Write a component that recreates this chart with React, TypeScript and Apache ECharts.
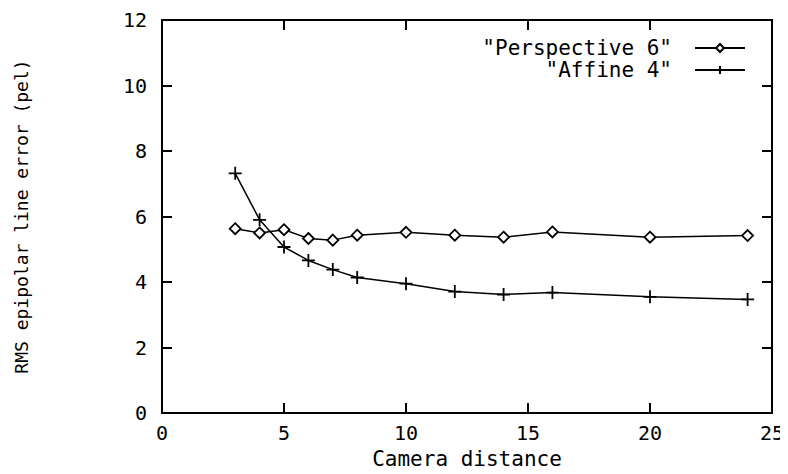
import React, { useEffect, useRef } from "react";
import * as echarts from "echarts";

const distances = [3, 4, 5, 6, 7, 8, 10, 12, 14, 16, 20, 24];
const perspective6 = [5.63, 5.5, 5.6, 5.33, 5.28, 5.43, 5.52, 5.43, 5.37, 5.53, 5.37, 5.42];
const affine4 = [7.32, 5.9, 5.07, 4.66, 4.38, 4.14, 3.95, 3.71, 3.62, 3.68, 3.55, 3.47];
const xTicks = [0, 25, 5];
const yTicks = [0, 12, 2];

const FONT = "DejaVu Sans Mono";
const plusPath = "path://M0,6L12,6M6,0L6,12";

export default function App() {
  const ref = useRef<HTMLDivElement>(null);
  useEffect(() => {
    if (!ref.current) return;
    const chart = echarts.init(ref.current, null, { renderer: "svg" });
    const axisCommon = {
      axisLine: { show: true, onZero: false, lineStyle: { color: "#000", width: 2 } },
      axisTick: { show: true, inside: true, length: 10, lineStyle: { color: "#000", width: 2 } },
      splitLine: { show: false },
      minorTick: { show: false },
    };
    chart.setOption({
      animation: false,
      backgroundColor: "#fff",
      grid: { left: 162, right: 16, top: 20, bottom: 56, containLabel: false },
      xAxis: [
        {
          type: "value",
          min: xTicks[0],
          max: xTicks[1],
          interval: xTicks[2],
          position: "bottom",
          ...axisCommon,
          axisLabel: { color: "#000", fontFamily: FONT, fontSize: 20, margin: 10 },
          name: "Camera distance",
          nameLocation: "middle",
          nameGap: 34,
          nameTextStyle: { color: "#000", fontFamily: FONT, fontSize: 21 },
        },
        {
          type: "value",
          min: xTicks[0],
          max: xTicks[1],
          interval: xTicks[2],
          position: "top",
          ...axisCommon,
          axisLabel: { show: false },
        },
      ],
      yAxis: [
        {
          type: "value",
          min: yTicks[0],
          max: yTicks[1],
          interval: yTicks[2],
          position: "left",
          ...axisCommon,
          axisLabel: { color: "#000", fontFamily: FONT, fontSize: 20, margin: 15 },
          name: "RMS epipolar line error (pel)",
          nameLocation: "middle",
          nameGap: 132,
          nameTextStyle: { color: "#000", fontFamily: FONT, fontSize: 18 },
        },
        {
          type: "value",
          min: yTicks[0],
          max: yTicks[1],
          interval: yTicks[2],
          position: "right",
          ...axisCommon,
          axisLabel: { show: false },
        },
      ],
      legend: {
        orient: "vertical",
        align: "right",
        right: 42,
        top: 37,
        padding: 0,
        itemWidth: 50,
        itemHeight: 10,
        itemGap: 0,
        textStyle: {
          color: "#000",
          fontFamily: FONT,
          fontSize: 21,
          lineHeight: 22,
          height: 22,
          padding: [0, 18, 0, 0],
        },
        data: [{ name: '"Perspective 6"' }, { name: '"Affine 4"' }],
      },
      series: [
        {
          name: '"Perspective 6"',
          type: "line",
          data: distances.map((d, i) => [d, perspective6[i]]),
          symbol: "diamond",
          symbolSize: [11, 11],
          showAllSymbol: true,
          lineStyle: { color: "#000", width: 1.5 },
          itemStyle: { color: "#fff", borderColor: "#000", borderWidth: 1.8 },
        },
        {
          name: '"Affine 4"',
          type: "line",
          data: distances.map((d, i) => [d, affine4[i]]),
          symbol: plusPath,
          symbolSize: 13,
          showAllSymbol: true,
          lineStyle: { color: "#000", width: 1.5 },
          itemStyle: { color: "none", borderColor: "#000", borderWidth: 1.8 },
        },
      ],
    });
    return () => chart.dispose();
  }, []);
  return <div ref={ref} style={{ width: 788, height: 474, margin: -8 }} />;
}
